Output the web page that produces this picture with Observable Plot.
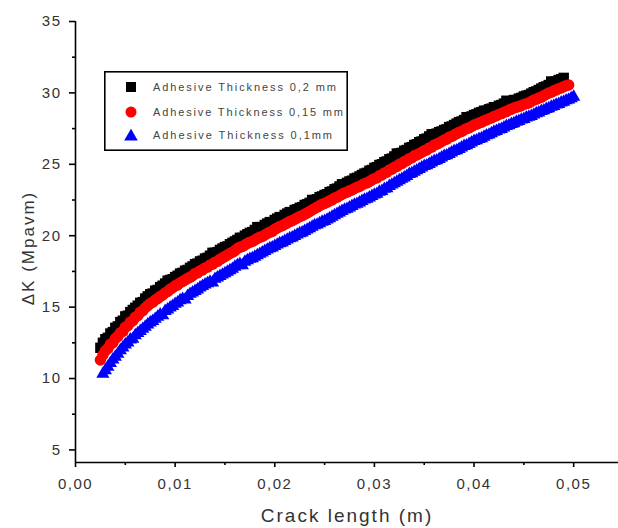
<!DOCTYPE html>
<html>
<head>
<meta charset="utf-8">
<script src="https://cdn.jsdelivr.net/npm/d3@7"></script>
<script src="https://cdn.jsdelivr.net/npm/@observablehq/plot@0.6"></script>
<style>
  html, body { margin: 0; padding: 0; background: #fff; }
  #wrap { position: relative; width: 618px; height: 528px; overflow: hidden; }
  #legend { position: absolute; left: 104px; top: 71px; }
</style>
</head>
<body>
<div id="wrap"></div>
<script>
// Crack length (m)
const crackLength = [
0.0025,0.00275,0.003,0.00325,0.0035,0.00375,0.004,0.00425,0.0045,0.00475,
0.005,0.00525,0.0055,0.00575,0.006,0.00625,0.0065,0.00675,0.007,0.00725,
0.0075,0.00775,0.008,0.00825,0.0085,0.00875,0.009,0.00925,0.0095,0.00975,
0.010,0.01025,0.0105,0.01075,0.011,0.01125,0.0115,0.01175,0.012,0.01225,
0.0125,0.01275,0.013,0.01325,0.0135,0.01375,0.014,0.01425,0.0145,0.01475,
0.015,0.01525,0.0155,0.01575,0.016,0.01625,0.0165,0.01675,0.017,0.01725,
0.0175,0.01775,0.018,0.01825,0.0185,0.01875,0.019,0.01925,0.0195,0.01975,
0.020,0.02025,0.0205,0.02075,0.021,0.02125,0.0215,0.02175,0.022,0.02225,
0.0225,0.02275,0.023,0.02325,0.0235,0.02375,0.024,0.02425,0.0245,0.02475,
0.025,0.02525,0.0255,0.02575,0.026,0.02625,0.0265,0.02675,0.027,0.02725,
0.0275,0.02775,0.028,0.02825,0.0285,0.02875,0.029,0.02925,0.0295,0.02975,
0.030,0.03025,0.0305,0.03075,0.031,0.03125,0.0315,0.03175,0.032,0.03225,
0.0325,0.03275,0.033,0.03325,0.0335,0.03375,0.034,0.03425,0.0345,0.03475,
0.035,0.03525,0.0355,0.03575,0.036,0.03625,0.0365,0.03675,0.037,0.03725,
0.0375,0.03775,0.038,0.03825,0.0385,0.03875,0.039,0.03925,0.0395,0.03975,
0.040,0.04025,0.0405,0.04075,0.041,0.04125,0.0415,0.04175,0.042,0.04225,
0.0425,0.04275,0.043,0.04325,0.0435,0.04375,0.044,0.04425,0.0445,0.04475,
0.045,0.04525,0.0455,0.04575,0.046,0.04625,0.0465,0.04675,0.047,0.04725,
0.0475,0.04775,0.048,0.04825,0.0485,0.04875,0.049,0.04925,0.0495,0.04975,
0.050];

// ΔK (Mpa√m) for adhesive thickness 0,2 mm
const dk02 = [
12.15,12.5,12.75,12.85,13.15,13.25,13.55,13.65,13.95,14.05,
14.35,14.4,14.65,14.8,14.95,15.1,15.3,15.35,15.6,15.75,
15.9,15.95,16.15,16.2,16.4,16.5,16.65,16.85,16.9,16.95,
17.1,17.2,17.35,17.4,17.55,17.6,17.75,17.85,18.0,18.05,
18.2,18.25,18.4,18.45,18.6,18.8,18.8,18.85,19.0,19.1,
19.2,19.25,19.4,19.5,19.6,19.7,19.85,19.85,20.0,20.1,
20.2,20.25,20.4,20.6,20.6,20.6,20.75,20.85,20.95,20.95,
21.1,21.2,21.3,21.3,21.45,21.55,21.65,21.65,21.8,21.85,
21.95,22.0,22.15,22.2,22.3,22.5,22.5,22.55,22.7,22.75,
22.85,22.9,23.05,23.1,23.25,23.3,23.45,23.6,23.6,23.7,
23.8,23.85,24.0,24.05,24.15,24.25,24.35,24.4,24.55,24.6,
24.75,24.8,24.95,25.0,25.15,25.2,25.35,25.4,25.55,25.75,
25.75,25.8,25.95,26.0,26.15,26.2,26.35,26.4,26.55,26.6,
26.75,26.8,26.95,27.1,27.1,27.15,27.25,27.3,27.4,27.45,
27.6,27.65,27.75,27.85,27.95,28.0,28.1,28.3,28.25,28.35,
28.45,28.5,28.6,28.65,28.75,28.75,28.85,28.9,29.0,29.0,
29.1,29.15,29.25,29.45,29.35,29.4,29.5,29.5,29.6,29.65,
29.75,29.8,29.85,29.95,30.05,30.1,30.2,30.3,30.4,30.45,
30.55,30.8,30.75,30.8,30.9,30.95,31.05,null,null,null,
null];

// ΔK (Mpa√m) for adhesive thickness 0,15 mm
const dk015 = [
11.3,11.65,11.95,12.1,12.4,12.5,12.8,12.95,13.2,13.3,
13.6,13.7,13.95,14.05,14.3,14.4,14.65,14.75,14.95,15.1,
15.25,15.35,15.5,15.6,15.75,15.85,16.0,16.1,16.25,16.35,
16.5,16.55,16.7,16.8,16.9,17.0,17.1,17.2,17.35,17.4,
17.55,17.6,17.75,17.8,17.95,18.0,18.15,18.2,18.35,18.45,
18.55,18.65,18.75,18.85,18.95,19.1,19.2,19.25,19.35,19.45,
19.55,19.6,19.7,19.8,19.9,19.95,20.05,20.15,20.25,20.3,
20.45,20.55,20.65,20.7,20.8,20.9,21.0,21.05,21.15,21.25,
21.35,21.4,21.5,21.6,21.7,21.8,21.9,22.0,22.1,22.2,
22.25,22.35,22.45,22.5,22.65,22.7,22.8,22.9,23.0,23.05,
23.15,23.2,23.3,23.4,23.45,23.55,23.65,23.7,23.8,23.9,
24.0,24.05,24.2,24.25,24.4,24.45,24.6,24.65,24.8,24.85,
25.0,25.05,25.2,25.25,25.4,25.45,25.6,25.65,25.75,25.85,
25.95,26.0,26.15,26.2,26.35,26.4,26.5,26.6,26.7,26.75,
26.9,26.95,27.05,27.15,27.25,27.3,27.4,27.5,27.55,27.65,
27.75,27.8,27.9,27.95,28.05,28.1,28.2,28.25,28.35,28.4,
28.5,28.55,28.65,28.7,28.8,28.85,28.95,29.0,29.05,29.1,
29.2,29.25,29.3,29.4,29.5,29.55,29.65,29.7,29.8,29.9,
30.0,30.05,30.15,30.2,30.3,30.35,30.45,30.5,30.55,null,
null];

// ΔK (Mpa√m) for adhesive thickness 0,1 mm
const dk01 = [
null,10.45,10.7,10.95,11.2,11.45,11.65,11.85,12.1,12.3,
12.5,12.65,12.85,12.9,13.15,13.3,13.45,13.6,13.75,13.9,
14.05,14.15,14.3,14.45,14.6,14.55,14.85,14.95,15.1,15.2,
15.35,15.45,15.6,15.7,15.65,15.9,16.05,16.15,16.25,16.35,
16.5,16.6,16.7,16.8,16.9,16.85,17.1,17.2,17.3,17.4,
17.5,17.6,17.7,17.8,17.95,18.05,18.15,18.05,18.3,18.4,
18.5,18.55,18.65,18.75,18.85,18.95,19.05,19.15,19.25,19.3,
19.4,19.5,19.6,19.65,19.75,19.85,19.95,20.0,20.1,20.2,
20.3,20.35,20.45,20.55,20.65,20.75,20.85,20.9,21.0,21.1,
21.15,21.25,21.35,21.45,21.55,21.65,21.75,21.85,21.95,22.0,
22.1,22.2,22.3,22.35,22.45,22.55,22.65,22.7,22.8,22.9,
23.0,23.05,23.2,23.25,23.4,23.45,23.6,23.7,23.8,23.9,
24.0,24.1,24.2,24.3,24.45,24.5,24.6,24.7,24.8,24.9,
25.0,25.05,25.15,25.25,25.35,25.4,25.5,25.6,25.7,25.75,
25.85,25.95,26.05,26.1,26.2,26.3,26.4,26.45,26.55,26.65,
26.75,26.8,26.9,26.95,27.05,27.15,27.2,27.3,27.4,27.45,
27.55,27.6,27.7,27.8,27.85,27.95,28.0,28.1,28.15,28.25,
28.3,28.4,28.45,28.5,28.6,28.7,28.75,28.85,28.9,29.0,
29.05,29.15,29.2,29.3,29.35,29.45,29.5,29.6,29.65,29.75,
29.85];

const seriesNames = ["Adhesive Thickness 0,2 mm", "Adhesive Thickness 0,15 mm", "Adhesive Thickness 0,1mm"];
const seriesColors = ["#000000", "#ff0000", "#0000ff"];
const xTicks = [0, 0.01, 0.02, 0.03, 0.04, 0.05];
const xMinorTicks = [0.005, 0.015, 0.025, 0.035, 0.045];
const yTicks = [5, 10, 15, 20, 25, 30, 35];
const yMinorTicks = [7.5, 12.5, 17.5, 22.5, 27.5, 32.5];
const xLabel = "Crack length (m)";
const yLabel = "ΔK (Mpavm)";

const makeRows = (vals) => crackLength.map((x, i) => ({x, y: vals[i]})).filter(d => d.y != null);
const rows02 = makeRows(dk02), rows015 = makeRows(dk015), rows01 = makeRows(dk01);

const yMin = 4.12;
const fmt = d => d3.format(".2f")(d).replace(".", ",");
const font = "'Liberation Sans', Arial, sans-serif";

const chart = Plot.plot({
  width: 618, height: 528,
  marginLeft: 75, marginRight: 0, marginTop: 21, marginBottom: 66,
  x: {domain: [0, 0.0545]},
  y: {domain: [yMin, 35]},
  style: {fontFamily: font, background: "white", overflow: "visible"},
  marks: [
    Plot.dot(rows02, {x: "x", y: "y", symbol: "square", r: 5.9, fill: seriesColors[0], stroke: "none"}),
    Plot.dot(rows015, {x: "x", y: "y", symbol: "circle", r: 5.7, fill: seriesColors[1], stroke: "none"}),
    // triangle centred on its bounding box rather than its centroid
    Plot.dot(rows01, {x: "x", y: "y", symbol: "triangle", r: 4.9, dy: 1.9, fill: seriesColors[2], stroke: "none"}),
    Plot.ruleY([yMin], {stroke: "#000", strokeWidth: 1.6}),
    Plot.ruleX([0], {stroke: "#000", strokeWidth: 1.6}),
    Plot.axisX(xTicks, {tickSize: 5, tickFormat: () => "", color: "#000", strokeWidth: 1.6, label: null}),
    Plot.axisX(xMinorTicks, {tickSize: 3, tickFormat: () => "", color: "#000", strokeWidth: 1.6, label: null}),
    Plot.axisX(xTicks, {tickSize: 0, tickPadding: 16, tickFormat: fmt, color: "#333", fontSize: 15, label: null, className: "ticklab"}),
    Plot.axisY(yTicks, {tickSize: 6, tickFormat: () => "", color: "#000", strokeWidth: 1.6, label: null}),
    Plot.axisY(yMinorTicks, {tickSize: 3, tickFormat: () => "", color: "#000", strokeWidth: 1.6, label: null}),
    Plot.axisY(yTicks, {tickSize: 0, tickPadding: 14, tickFormat: d => String(d), color: "#333", fontSize: 15, label: null, className: "ticklab"}),
    Plot.text([xLabel], {frameAnchor: "bottom", dy: 53, text: d => d, fontSize: 19, fill: "#333", textAnchor: "middle", lineAnchor: "middle", className: "axlab"}),
    Plot.text([yLabel], {frameAnchor: "left", dx: -47, dy: 6, rotate: -90, text: d => d, fontSize: 17, fill: "#333", textAnchor: "middle", lineAnchor: "middle", className: "axlab"})
  ]
});

d3.select(chart).selectAll(".ticklab text").attr("letter-spacing", "1.5px");
d3.select(chart).selectAll(".axlab text").attr("letter-spacing", "2px");

const wrap = document.getElementById("wrap");
wrap.appendChild(chart);

// Legend (HTML overlay with inline SVG)
const lw = 244, lh = 80;
const leg = d3.create("svg").attr("id", "legend").attr("width", lw).attr("height", lh)
  .style("font-family", font);
leg.append("rect").attr("x", 0.8).attr("y", 0.8).attr("width", lw - 1.6).attr("height", lh - 1.6)
  .attr("fill", "white").attr("stroke", "#000").attr("stroke-width", 1.6);
const symYs = [16, 41, 64];
const symShift = [0, 0, 1.5];
const textLens = [183, 190, 179];
const symbols = [d3.symbolSquare, d3.symbolCircle, d3.symbolTriangle];
const symSizes = [100, 95, 80];
seriesNames.forEach((name, i) => {
  leg.append("path").attr("d", d3.symbol(symbols[i], symSizes[i])())
    .attr("transform", `translate(27,${symYs[i] + symShift[i]})`).attr("fill", seriesColors[i]);
  leg.append("text").attr("x", 49).attr("y", symYs[i] + 4).attr("font-size", 11)
    .attr("fill", "#444").attr("textLength", textLens[i]).attr("lengthAdjust", "spacing").text(name);
});
wrap.appendChild(leg.node());
</script>
</body>
</html>
